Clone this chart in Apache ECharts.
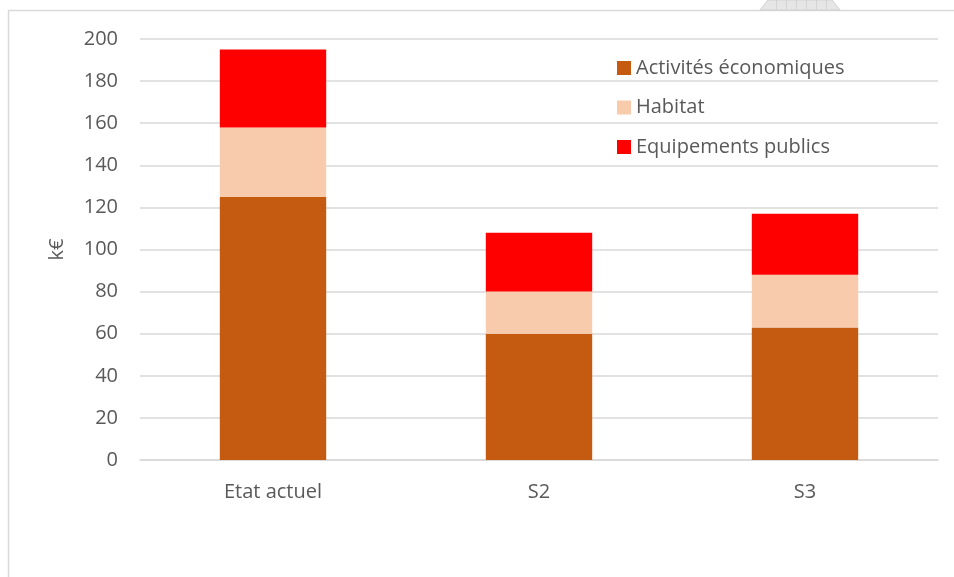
<!DOCTYPE html>
<html>
<head>
<meta charset="utf-8">
<script src="https://cdn.jsdelivr.net/npm/echarts@6/dist/echarts.min.js"></script>
<style>
  html, body { margin: 0; padding: 0; background: #fff; }
  #chart { width: 954px; height: 577px; }
</style>
</head>
<body>
<div id="chart"></div>
<script>
// Scenarios and stacked cost components (k€)
const categories = ['Etat actuel', 'S2', 'S3'];
const activites = [125, 60, 63];
const habitat = [33, 20, 25];
const equipements = [37, 28, 29];
const seriesNames = ['Activités économiques', 'Habitat', 'Equipements publics'];
const colors = ['#C55A11', '#F8CBAD', '#FF0000'];

const textColor = '#595959';
const fontFamily = 'Open Sans, Noto Sans, sans-serif';
const fontSize = 20;

const chart = echarts.init(document.getElementById('chart'), null, { renderer: 'canvas' });

function barSeries(name, data, color) {
  return {
    name: name,
    type: 'bar',
    stack: 'total',
    data: data,
    barWidth: '40%',
    itemStyle: { color: color },
    emphasis: { disabled: true }
  };
}

chart.setOption({
  animation: false,
  color: colors,
  textStyle: { fontFamily: fontFamily },
  graphic: [
    // chart frame
    {
      type: 'rect',
      shape: { x: 8.5, y: 10.5, width: 980, height: 620 },
      style: { fill: 'none', stroke: '#d9d9d9', lineWidth: 1.5 },
      silent: true, z: -10
    },
    // resize handle on the top frame edge
    {
      type: 'polygon',
      shape: { points: [[760, 10], [768, 0], [832, 0], [840, 10]] },
      style: { fill: '#e6e6e6', stroke: '#cfcfcf', lineWidth: 1 },
      silent: true
    }
  ].concat([776, 786, 796, 806, 816, 826].map(function (x) {
    return {
      type: 'line',
      shape: { x1: x + 0.5, y1: 0, x2: x + 0.5, y2: 10 },
      style: { stroke: '#d4d4d4', lineWidth: 1 },
      silent: true
    };
  })),
  grid: { left: 140, right: 16, top: 39, bottom: 117, containLabel: false },
  legend: {
    orient: 'vertical',
    left: 612,
    top: 52,
    itemWidth: 14,
    itemHeight: 14,
    itemGap: 17.5,
    icon: 'rect',
    selectedMode: false,
    data: seriesNames,
    textStyle: { color: textColor, fontSize: fontSize, fontFamily: fontFamily, lineHeight: 22 }
  },
  xAxis: {
    type: 'category',
    data: categories,
    axisLine: { lineStyle: { color: '#d9d9d9', width: 1.5 } },
    axisTick: { show: false },
    axisLabel: { color: textColor, fontSize: fontSize, margin: 22, fontFamily: fontFamily }
  },
  yAxis: {
    type: 'value',
    min: 0,
    max: 200,
    interval: 20,
    name: 'k€',
    nameLocation: 'middle',
    nameGap: 73,
    nameRotate: 90,
    nameTextStyle: { color: textColor, fontSize: fontSize, fontFamily: fontFamily },
    axisLine: { show: false },
    axisTick: { show: false },
    axisLabel: { color: textColor, fontSize: fontSize, margin: 22, fontFamily: fontFamily },
    splitLine: { lineStyle: { color: '#d9d9d9', width: 1.5 } }
  },
  series: [
    barSeries(seriesNames[0], activites, colors[0]),
    barSeries(seriesNames[1], habitat, colors[1]),
    barSeries(seriesNames[2], equipements, colors[2])
  ]
});
</script>
</body>
</html>
